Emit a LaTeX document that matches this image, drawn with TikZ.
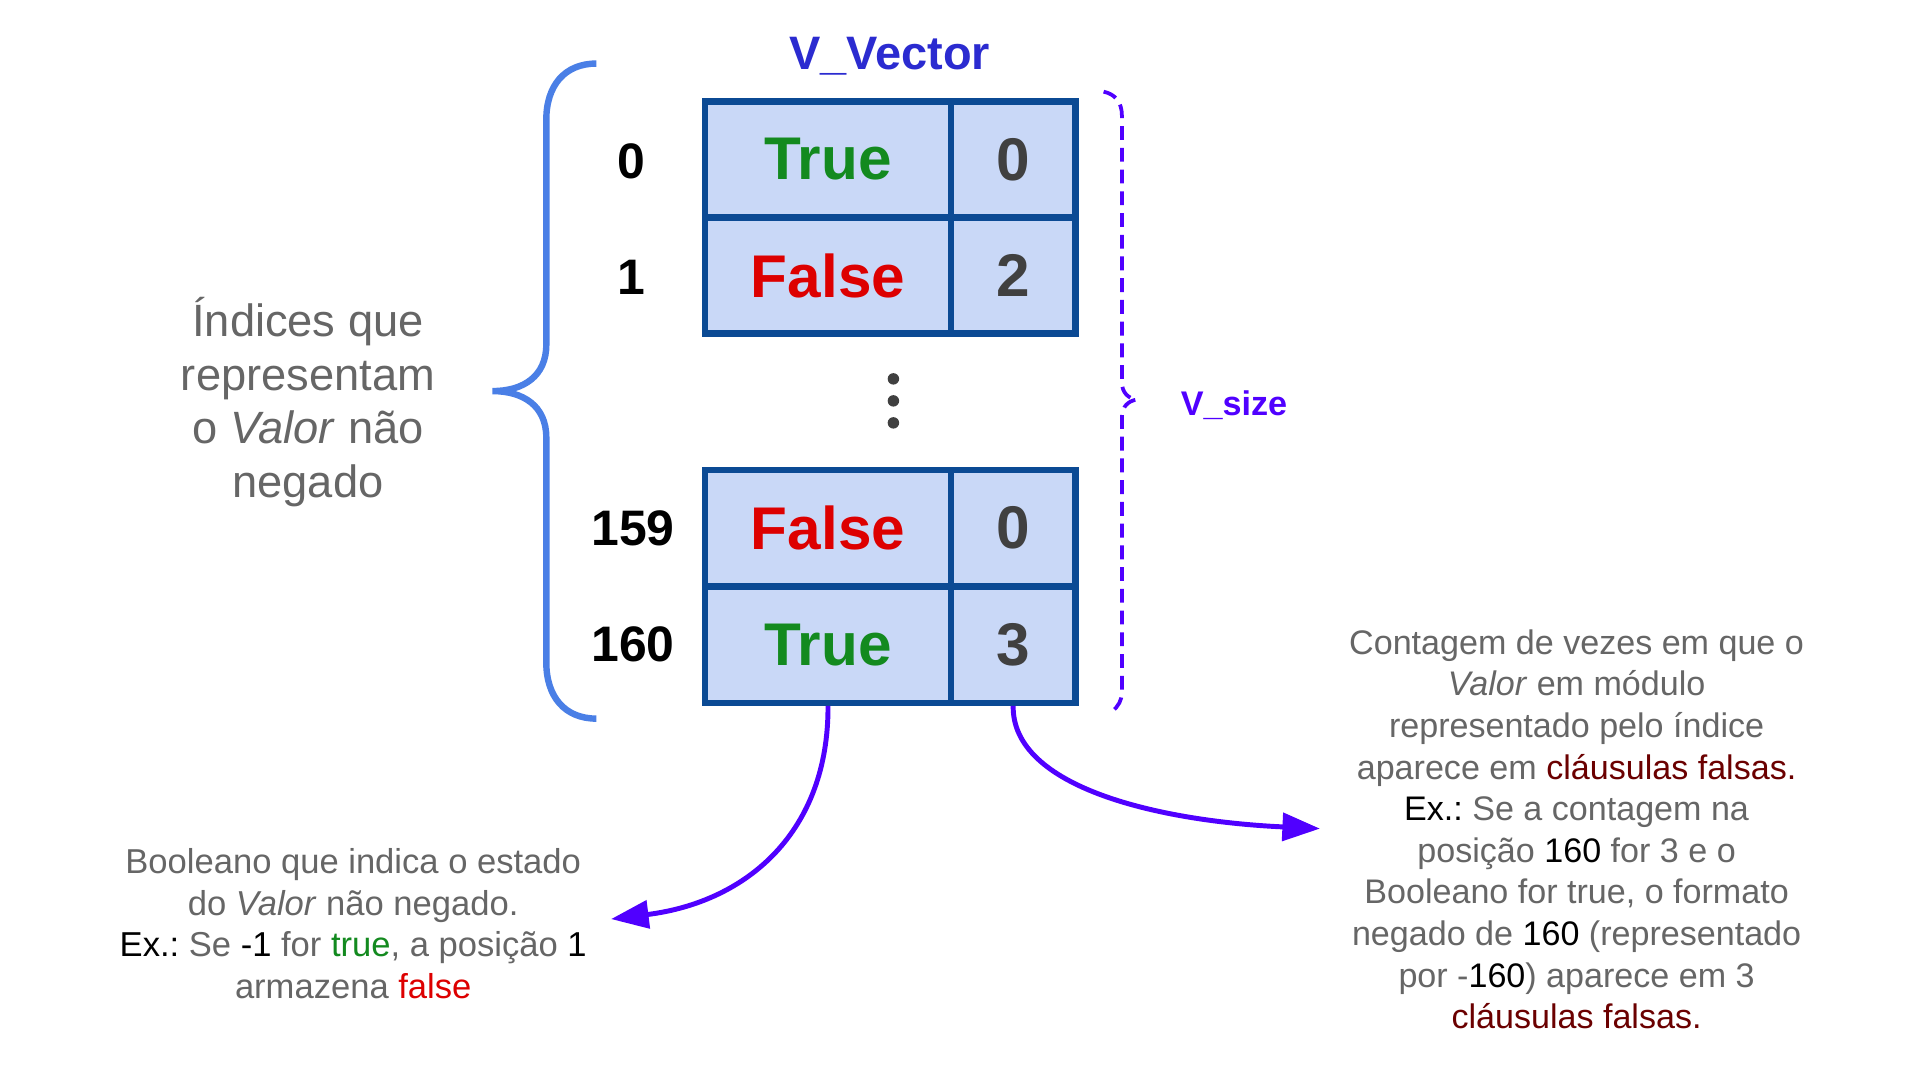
\documentclass[tikz,border=0pt]{standalone}
\usepackage{fontspec}
\setmainfont{Liberation Sans}
\usetikzlibrary{arrows.meta}
\definecolor{tgreen}{HTML}{138A1F}
\definecolor{tred}{HTML}{DD0000}
\definecolor{dred}{HTML}{6B0000}
\definecolor{tgray}{HTML}{666666}
\definecolor{numgray}{HTML}{404040}
\definecolor{vblue}{HTML}{2B2BD0}
\definecolor{vpurple}{HTML}{5000FF}
\definecolor{cellfill}{HTML}{C9D8F7}
\definecolor{cellborder}{HTML}{0B4A94}
\definecolor{bracec}{HTML}{4A7FE6}
\newcommand{\bk}[1]{\textcolor{black}{#1}}
\newcommand{\dr}[1]{\textcolor{dred}{#1}}
\frenchspacing
\begin{document}
\begin{tikzpicture}[x=1.2371pt,y=-1.2371pt,
  cellA/.style={draw=cellborder, fill=cellfill, line width=6.5pt, minimum width=248.7pt, minimum height=117.5pt, inner sep=0pt, font=\fontsize{61}{63}\selectfont\bfseries},
  cellB/.style={cellA, minimum width=126.2pt, text=numgray},
  idx/.style={font=\fontsize{50.5}{52}\selectfont\bfseries, text=black, inner sep=0pt},
  desc/.style={align=center, text=tgray, inner sep=0pt, font=\fontsize{35}{42.1}\selectfont},
  arr/.style={draw=vpurple, line width=5pt, -{Triangle[length=38pt,width=28pt]}},
]
\useasboundingbox[fill=white] (0,0) rectangle (1571,883.6);

% title
\node[anchor=base, text=vblue, inner sep=0pt, font=\fontsize{47.5}{50}\selectfont\bfseries] (title) at (728,57) {V\_Vector};

% table, first block
\node[cellA, text=tgreen] (b0) at (677.5,130.5) {True};
\node[cellB] (c0) at (829,130.5) {0};
\node[cellA, text=tred] (b1) at (677.5,225.5) {False};
\node[cellB] (c1) at (829,225.5) {2};
% second block
\node[cellA, text=tred] (b159) at (677.5,432) {False};
\node[cellB] (c159) at (829,432) {0};
\node[cellA, text=tgreen] (b160) at (677.5,527.5) {True};
\node[cellB] (c160) at (829,527.5) {3};

% indices
\node[idx] (i0) at (517,132) {0};
\node[idx] (i1) at (517,227) {1};
\node[idx] (i159) at (518,432) {159};
\node[idx] (i160) at (518,527) {160};

% vertical dots
\fill[numgray] (731,310) circle[radius=5.8pt];
\fill[numgray] (731,328) circle[radius=5.8pt];
\fill[numgray] (731,346) circle[radius=5.8pt];

% left brace
\draw[bracec, line width=6.5pt]
  (488,52) .. controls (462,52) and (447,70) .. (447,98)
  -- (447,282) .. controls (447,308) and (428,320) .. (403,320)
  .. controls (428,320) and (447,332) .. (447,358)
  -- (447,542) .. controls (447,570) and (462,588) .. (488,588);

% left label
\node[anchor=north, align=center, text=tgray, inner sep=0pt, font=\fontsize{45.8}{54.4}\selectfont] (lbl) at (252,243)
  {Índices que\\representam\\o \textit{Valor} não\\negado};

% dashed right brace
\draw[vpurple, line width=3.8pt, dash pattern=on 14pt off 8pt]
  (903,75) .. controls (912,77) and (918,83) .. (918,95)
  -- (918,313) .. controls (918,321) and (923,326) .. (930,327)
  .. controls (923,328) and (918,333) .. (918,341)
  -- (918,566) .. controls (918,573) and (915,578) .. (910,582);
\node[anchor=base west, text=vpurple, inner sep=0pt, font=\fontsize{34.6}{36}\selectfont\bfseries] (vsize) at (966,340) {V\_size};

% description texts
\node[desc, anchor=north] (dleft) at (289,694)
  {Booleano que indica o estado\\
   do \textit{Valor} não negado.\\
   \bk{Ex.:} Se \bk{-1} for \textcolor{tgreen}{true}, a posição \bk{1}\\
   armazena \textcolor{tred}{false}};

\node[desc, anchor=north, font=\fontsize{34.5}{42.1}\selectfont] (dright) at (1290,515)
  {Contagem de vezes em que o\\
   \textit{Valor} em módulo\\
   representado pelo índice\\
   aparece em \dr{cláusulas falsas.}\\
   \bk{Ex.:} Se a contagem na\\
   posição \bk{160} for 3 e o\\
   Booleano for true, o formato\\
   negado de \bk{160} (representado\\
   por -\bk{160}) aparece em 3\\
   \dr{cláusulas falsas.}};

% arrows
\coordinate (e1) at (500,752);
\coordinate (e2) at (1080,678);
\draw[arr] (b160.south) .. controls (678,680) and (612,738) .. (e1);
\draw[arr] (c160.south) .. controls (828,645) and (950,672) .. (e2);
\end{tikzpicture}
\end{document}
